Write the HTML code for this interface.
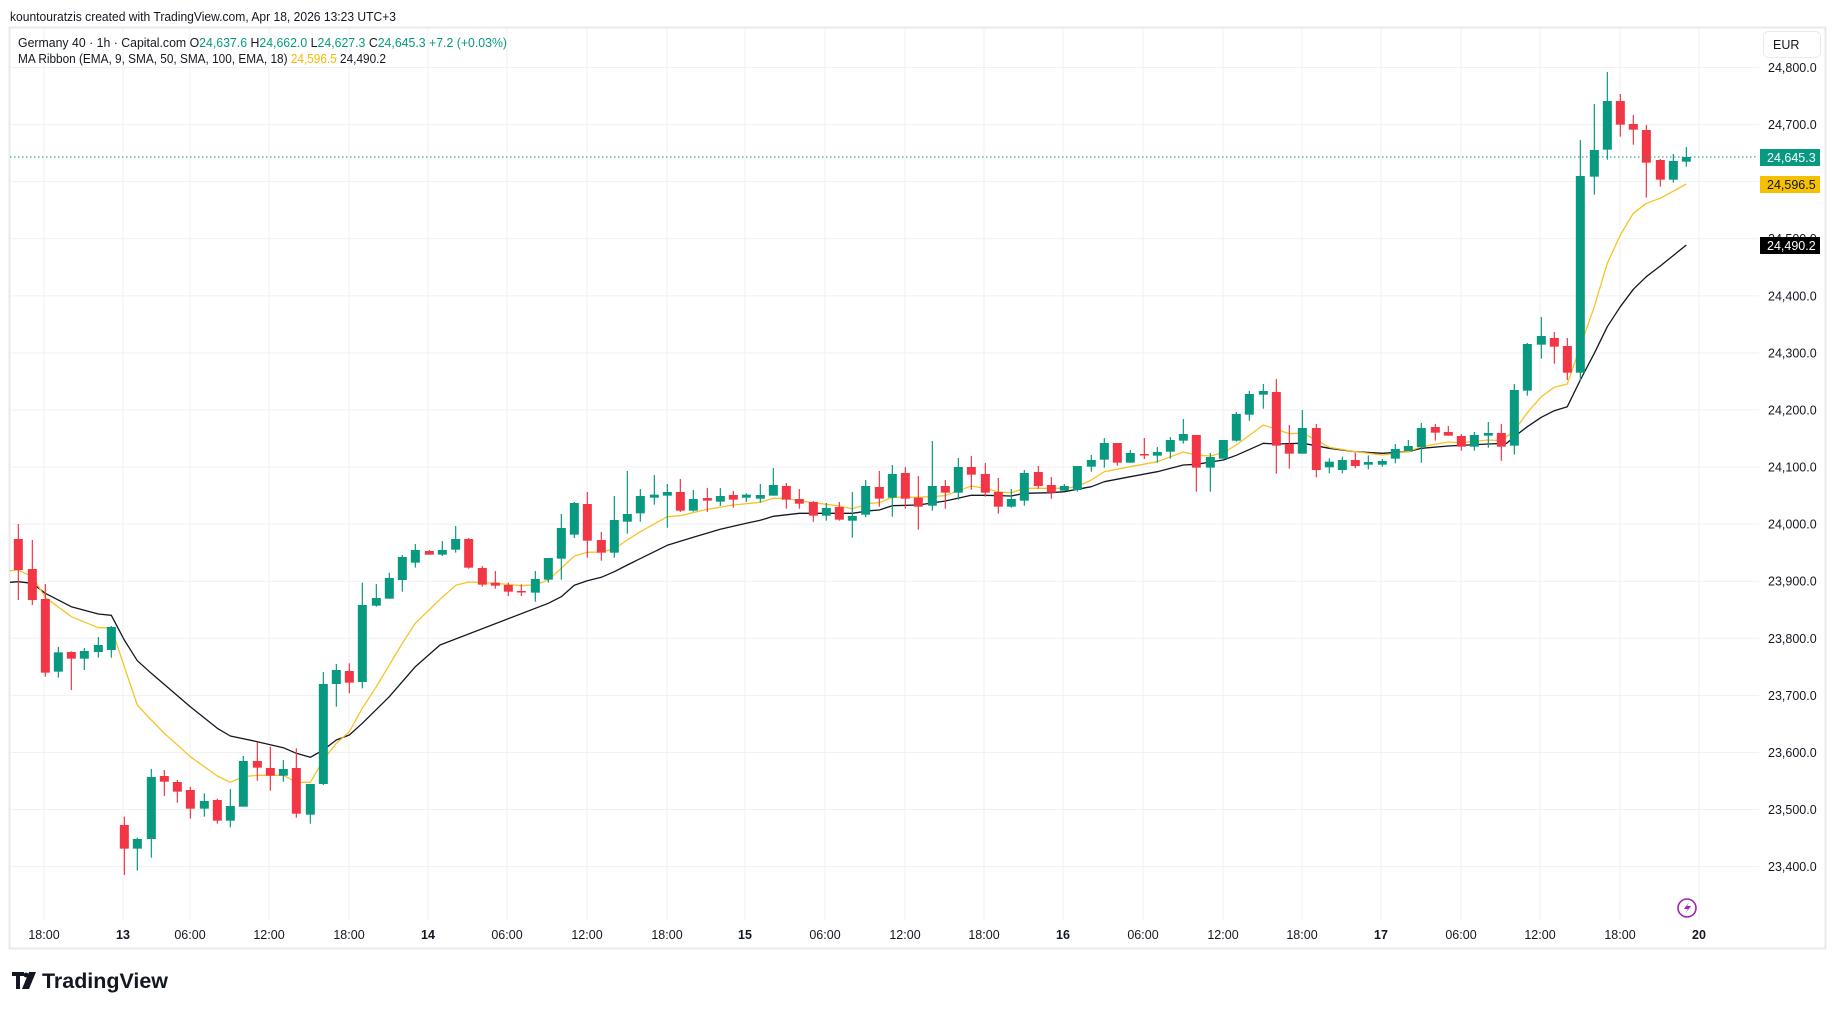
<!DOCTYPE html>
<html><head><meta charset="utf-8">
<style>
html,body{margin:0;padding:0;background:#fff;}
svg{display:block;font-family:"Liberation Sans","DejaVu Sans",sans-serif;}
</style></head>
<body>
<svg id="s" width="1835" height="1009" viewBox="0 0 1835 1009" xmlns="http://www.w3.org/2000/svg">
<rect width="1835" height="1009" fill="#fff"/>
<text x="10" y="21" font-size="13" fill="#131722" textLength="386" lengthAdjust="spacingAndGlyphs">kountouratzis created with TradingView.com, Apr 18, 2026 13:23 UTC+3</text>
<rect x="9.5" y="27.5" width="1816" height="921" fill="none" stroke="#e9e9ec" stroke-width="2"/>
<g id="grid" stroke="#f0f1f3" stroke-width="1"></g>
<g id="plot"></g>
<line x1="10" y1="157" x2="1758" y2="157" stroke="#089981" stroke-width="1" stroke-dasharray="1.5,2.5"/>
<g font-size="12.5" fill="#131722">
<text x="18" y="47" textLength="489" lengthAdjust="spacingAndGlyphs">Germany 40 · 1h · Capital.com  O<tspan fill="#089981">24,637.6</tspan>  H<tspan fill="#089981">24,662.0</tspan>  L<tspan fill="#089981">24,627.3</tspan>  C<tspan fill="#089981">24,645.3</tspan>  <tspan fill="#089981">+7.2 (+0.03%)</tspan></text>
<text x="18" y="63" textLength="368" lengthAdjust="spacingAndGlyphs">MA Ribbon (EMA, 9, SMA, 50, SMA, 100, EMA, 18)  <tspan fill="#f5b800">24,596.5</tspan>  24,490.2</text>
</g>
<rect x="1763.5" y="31.5" width="57" height="26" rx="5" fill="#fff" stroke="#e9e9ec"/>
<text x="1773" y="49" font-size="12.5" fill="#131722">EUR</text>
<g id="prices" font-size="12.5" fill="#131722"></g>
<rect x="1760" y="149" width="60" height="17" fill="#089981"/>
<text x="1767" y="162" font-size="12.5" fill="#fff">24,645.3</text>
<rect x="1760" y="176" width="60" height="17" fill="#f5c000"/>
<text x="1767" y="189" font-size="12.5" fill="#131722">24,596.5</text>
<rect x="1760" y="237" width="60" height="17" fill="#000"/>
<text x="1767" y="250" font-size="12.5" fill="#fff">24,490.2</text>
<g id="times" font-size="12.5" fill="#131722" text-anchor="middle"></g>
<circle cx="1687" cy="908" r="9" fill="none" stroke="#9c27b0" stroke-width="1.6"/>
<path d="M1689 902 L1684 909 L1688 909 L1685 914 L1691 906 L1687 906 Z" fill="#9c27b0"/>
<g fill="#131722">
<path d="M12 972 h12 v4 h-4 v13 h-4 v-13 h-4z"/>
<circle cx="26" cy="975" r="2.4"/>
<path d="M29 972 h7 l-7 17 h-7z"/>
<text x="42" y="988" font-size="21" font-weight="bold" textLength="126" lengthAdjust="spacingAndGlyphs">TradingView</text>
</g>
</svg>
<script>
const NS="http://www.w3.org/2000/svg";
function el(t,a,p){const e=document.createElementNS(NS,t);for(const k in a)e.setAttribute(k,a[k]);p.appendChild(e);return e;}
const grid=document.getElementById('grid'),plot=document.getElementById('plot'),prices=document.getElementById('prices'),times=document.getElementById('times');
const py=p=>67.5+(24800-p)*0.5708;
for(let p=24800;p>=23400;p-=100){const y=py(p);el('line',{x1:10,y1:y,x2:1759,y2:y},grid);
 const t=el('text',{x:1768,y:y+4.5},prices);t.textContent=(p/1000|0)+','+String(p%1000).padStart(3,'0')+'.0';}
const T=[[44,'18:00'],[123,'13',1],[190,'06:00'],[269,'12:00'],[349,'18:00'],[428,'14',1],[507,'06:00'],[587,'12:00'],[667,'18:00'],[745,'15',1],[825,'06:00'],[905,'12:00'],[984,'18:00'],[1063,'16',1],[1143,'06:00'],[1223,'12:00'],[1302,'18:00'],[1381,'17',1],[1461,'06:00'],[1540,'12:00'],[1620,'18:00'],[1699,'20',1]];
T.forEach(([x,s,b])=>{el('line',{x1:x,y1:28,x2:x,y2:920},grid);const t=el('text',{x:x,y:939},times);if(b)t.setAttribute('font-weight','bold');t.textContent=s;});
const Z=[
[0,520,[[55,'r',57,150,12,240],[97,'r',147,240,60,255],[136,'r',237,458,192,470],[175,'g',397,455,381,473],[214,'r',396,416,394,510],[253,'g',393,416,384,450],[295,'g',375,396,351,413],[334,'g',321,390,318,413],
[373,'r',915,986,890,1065],[412,'g',957,986,953,1052],[454,'g',771,957,747,1013],[493,'r',768,785,750,828],[532,'r',786,815,780,848],[571,'r',810,866,800,896],[613,'g',843,866,820,890],[652,'r',840,902,836,911],[691,'g',858,902,807,922],[730,'g',723,860,708,860],[772,'r',723,743,667,782],[811,'r',744,767,680,812],[850,'g',747,767,720,785],[889,'r',744,881,685,893],[931,'g',792,884,792,911],[970,'g',492,792,456,795],[1009,'g',450,492,432,560],[1048,'r',453,488,430,520],[1087,'g',255,486,188,505],[1129,'g',234,257,192,260],[1168,'g',174,236,158,236],[1207,'g',111,180,105,215],[1246,'g',90,128,72,143],[1288,'r',93,104,90,104]]],
[430,450,[[37,'g',300,314,273,318],[77,'g',267,299,228,308],[116,'r',267,353,264,356],[157,'r',354,404,348,410],[196,'r',398,407,363,416],[235,'r',405,425,398,438],[274,'r',423,425,403,438],[316,'g',387,428,363,455],[355,'g',324,389,324,398],[394,'g',234,326,192,389],[433,'g',159,254,156,264],[472,'r',162,272,126,323],[514,'r',270,308,246,332],[553,'g',210,308,138,323],[592,'g',192,215,63,251],[631,'g',138,190,117,215],[673,'g',134,143,75,164],[712,'g',126,137,102,233],[751,'r',126,182,87,186],[790,'g',147,182,120,185],[832,'r',144,152,114,186],[871,'g',138,155,114,168],[910,'r',135,149,123,173],[949,'g',134,143,130,156],[991,'g',135,146,102,158],[1030,'g',105,137,54,137],[1069,'r',108,149,99,176],[1108,'r',147,161,117,176],[1150,'r',156,197,153,215],[1189,'g',174,197,159,212],[1228,'r',171,209,156,212],[1267,'g',198,212,126,263],[1307,'g',108,194,90,201]]],
[860,370,[[58,'r',351,386,303,410],[97,'g',312,383,285,440],[136,'r',309,386,291,416],[175,'r',383,410,318,479],[217,'g',348,407,213,422],[256,'r',348,368,330,416],[295,'g',291,368,264,389],[334,'r',291,314,258,359],[376,'r',312,368,279,380],[415,'r',366,410,324,431],[454,'g',387,410,357,413],[493,'g',309,392,300,407],[535,'r',306,348,288,356],[574,'r',345,368,321,386],[613,'g',348,362,342,362],[652,'g',288,360,288,365],[694,'g',270,290,255,305],[733,'g',219,269,204,293],[772,'r',219,278,219,287],[811,'g',249,278,240,278],[853,'r',252,254,204,267],[892,'g',246,257,231,278],[931,'g',210,245,201,266],[970,'g',192,212,147,221],[1009,'r',195,293,195,365],[1051,'g',261,293,249,365],[1090,'g',210,266,210,266],[1129,'g',132,212,126,215],[1168,'g',72,134,63,152],[1210,'g',63,74,42,116],[1249,'r',66,227,27,311],[1288,'r',222,251,165,296]]],
[1290,60,[[37,'g',1104,1181,1050,1181],[79,'r',1104,1230,1092,1252],[118,'g',1205,1222,1195,1240],[157,'g',1200,1230,1190,1240],[196,'r',1200,1218,1178,1225],[235,'g',1206,1214,1186,1228],[277,'g',1203,1214,1197,1220],[316,'g',1167,1196,1152,1210],[355,'g',1158,1173,1140,1173],[394,'g',1104,1161,1089,1208],[436,'r',1101,1118,1092,1142],[475,'r',1116,1127,1098,1127],[514,'r',1128,1160,1122,1172],[553,'g',1125,1160,1116,1172],[595,'g',1119,1127,1086,1163],[634,'r',1119,1160,1092,1202],[673,'g',990,1157,972,1184],[712,'g',852,992,849,1007],[754,'g',828,854,771,896],[793,'r',834,860,816,911],[832,'r',858,938,834,960],[871,'g',348,938,240,962],[913,'g',270,350,132,404],[952,'g',123,269,36,299],[991,'r',123,194,102,230],[1030,'r',192,209,165,254],[1069,'r',210,308,195,413],[1111,'r',300,359,297,380],[1150,'g',303,359,282,368],[1189,'g',291,305,261,320]]]];
const Y=[[0,520,[[30,152],[55,150],[97,170],[136,232],[214,290],[295,323],[334,323],[373,440],[412,555],[454,600],[493,640],[571,710],[652,768],[691,787],[730,770],[772,766],[850,766],[889,787],[931,787],[970,720],[1009,670],[1048,635],[1087,565],[1129,500],[1207,370],[1246,310],[1320,238]]],
[430,450,[[77,406],[116,396],[196,400],[274,407],[316,404],[355,390],[394,355],[433,318],[472,307],[514,306],[553,297],[592,270],[631,245],[712,200],[751,197],[832,178],[910,165],[991,157],[1030,145],[1069,145],[1108,153],[1150,158],[1189,163],[1228,168],[1267,176],[1320,160]]],
[860,370,[[58,398],[97,382],[175,382],[256,377],[295,362],[334,348],[376,355],[415,366],[454,368],[493,355],[574,355],[613,355],[652,350],[694,330],[733,305],[811,290],[892,275],[970,246],[1009,255],[1051,258],[1090,248],[1129,225],[1210,165],[1249,178],[1288,191],[1320,190]]],
[1290,60,[[40,1120],[79,1140],[118,1162],[196,1175],[277,1185],[355,1175],[394,1160],[475,1146],[514,1148],[595,1140],[634,1142],[673,1112],[712,1058],[754,1010],[793,982],[832,972],[871,860],[913,740],[952,610],[991,525],[1030,460],[1069,430],[1111,415],[1189,372]]]];
const B=[[0,520,[[30,187],[55,185],[97,190],[136,220],[214,260],[295,282],[334,286],[373,360],[412,422],[454,460],[571,560],[652,625],[691,648],[772,665],[850,683],[889,700],[931,712],[970,690],[1009,660],[1048,645],[1087,610],[1168,530],[1246,440],[1320,375]]],
[430,450,[[355,460],[394,440],[433,406],[472,392],[514,382],[553,365],[592,345],[673,305],[712,286],[790,262],[871,238],[949,220],[991,211],[1030,199],[1108,190],[1189,190],[1267,190],[1320,182]]],
[860,370,[[58,420],[97,407],[175,405],[256,393],[334,376],[376,376],[454,378],[493,370],[574,368],[613,365],[694,350],[733,335],[811,320],[892,305],[970,285],[1009,283],[1090,270],[1129,256],[1210,220],[1249,222],[1320,220]]],
[1290,60,[[40,1150],[118,1165],[196,1175],[277,1180],[355,1175],[394,1165],[475,1158],[595,1152],[650,1150],[673,1130],[712,1100],[754,1072],[793,1052],[832,1040],[871,960],[913,880],[952,800],[991,740],[1030,688],[1069,650],[1111,618],[1189,555]]]];
function line(D,col){let pts=[],last=-1;D.forEach(([ox,oy,a])=>a.forEach(([x,y])=>{const X=ox+x/3;if(X>last+0.5){pts.push(X.toFixed(1)+','+(oy+y/3).toFixed(1));last=X;}}));
 el('polyline',{points:pts.join(' '),fill:'none',stroke:col,'stroke-width':1.3,'stroke-linejoin':'round'},plot);}
line(B,'#131722');line(Y,'#f7c325');
Z.forEach(([ox,oy,a])=>a.forEach(([x,c,bt,bb,wt,wb])=>{const X=ox+x/3,col=c=='g'?'#089981':'#f23645';
 el('line',{x1:X,y1:oy+wt/3,x2:X,y2:oy+wb/3,stroke:col,'stroke-width':1.2},plot);
 const h=Math.max(1.5,(bb-bt)/3);el('rect',{x:X-4.5,y:oy+bt/3,width:9,height:h,fill:col},plot);}));
</script>
</body></html>
